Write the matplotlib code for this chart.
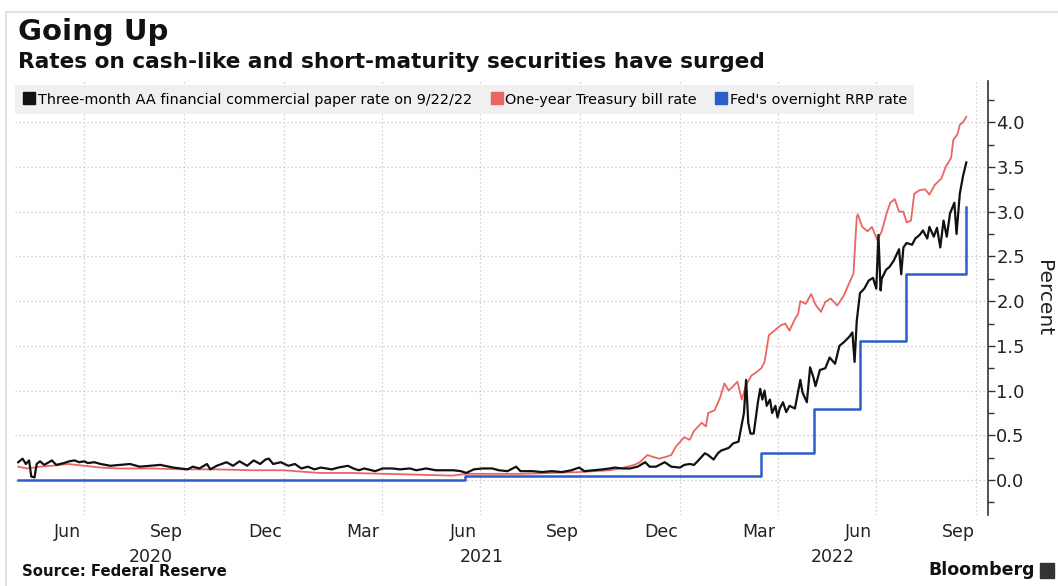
import pandas as pd
import matplotlib
matplotlib.use("Agg")
import matplotlib.pyplot as plt
import matplotlib.dates as mdates
import matplotlib.transforms as mtransforms
from matplotlib.lines import Line2D
from matplotlib.patches import Rectangle
from matplotlib.ticker import MultipleLocator, FixedLocator

plt.rcParams['font.family'] = ['DejaVu Sans']

# --- data ---
cp_dates = [
    '2020-05-01', '2020-05-05', '2020-05-08', '2020-05-11', '2020-05-13', '2020-05-16',
    '2020-05-18', '2020-05-21', '2020-05-25', '2020-06-01', '2020-06-05', '2020-06-12',
    '2020-06-17', '2020-06-22', '2020-06-26', '2020-07-01', '2020-07-04', '2020-07-10',
    '2020-07-16', '2020-07-25', '2020-08-03', '2020-08-12', '2020-08-21', '2020-08-31',
    '2020-09-09', '2020-09-21', '2020-10-04', '2020-10-09', '2020-10-15', '2020-10-22',
    '2020-10-25', '2020-10-31', '2020-11-09', '2020-11-15', '2020-11-21', '2020-11-28',
    '2020-12-04', '2020-12-10', '2020-12-15', '2020-12-18', '2020-12-22', '2020-12-29',
    '2021-01-05', '2021-01-11', '2021-01-17', '2021-01-23', '2021-01-29', '2021-02-04',
    '2021-02-14', '2021-02-20', '2021-03-01', '2021-03-06', '2021-03-11', '2021-03-16',
    '2021-03-26', '2021-04-02', '2021-04-11', '2021-04-18', '2021-04-27', '2021-05-03',
    '2021-05-12', '2021-05-21', '2021-05-30', '2021-06-06', '2021-06-13', '2021-06-18',
    '2021-06-25', '2021-07-03', '2021-07-12', '2021-07-18', '2021-07-26', '2021-08-03',
    '2021-08-07', '2021-08-18', '2021-08-27', '2021-09-05', '2021-09-14', '2021-09-23',
    '2021-09-30', '2021-10-05', '2021-10-14', '2021-10-22', '2021-10-28', '2021-11-02',
    '2021-11-09', '2021-11-16', '2021-11-23', '2021-11-30', '2021-12-04', '2021-12-10',
    '2021-12-18', '2021-12-24', '2022-01-01', '2022-01-05', '2022-01-10', '2022-01-14',
    '2022-01-18', '2022-01-21', '2022-01-24', '2022-01-27', '2022-02-01', '2022-02-05',
    '2022-02-08', '2022-02-15', '2022-02-19', '2022-02-24', '2022-02-26', '2022-03-01',
    '2022-03-03', '2022-03-05', '2022-03-07', '2022-03-10', '2022-03-14', '2022-03-16',
    '2022-03-18', '2022-03-20', '2022-03-22', '2022-03-25', '2022-03-27', '2022-03-30',
    '2022-04-01', '2022-04-03', '2022-04-06', '2022-04-09', '2022-04-12', '2022-04-17',
    '2022-04-22', '2022-04-24', '2022-04-28', '2022-05-01', '2022-05-04', '2022-05-06',
    '2022-05-10', '2022-05-15', '2022-05-19', '2022-05-24', '2022-05-28', '2022-06-01',
    '2022-06-06', '2022-06-09', '2022-06-11', '2022-06-13', '2022-06-16', '2022-06-20',
    '2022-06-24', '2022-06-28', '2022-07-01', '2022-07-03', '2022-07-05', '2022-07-06',
    '2022-07-10', '2022-07-13', '2022-07-17', '2022-07-22', '2022-07-24', '2022-07-26',
    '2022-07-29', '2022-08-03', '2022-08-06', '2022-08-10', '2022-08-13', '2022-08-17',
    '2022-08-19', '2022-08-23', '2022-08-26', '2022-08-29', '2022-09-01', '2022-09-04',
    '2022-09-07', '2022-09-11', '2022-09-13', '2022-09-16', '2022-09-19', '2022-09-22',
]
cp_rates = [
    0.20, 0.24, 0.18, 0.22, 0.04, 0.03,
    0.18, 0.21, 0.17, 0.22, 0.17, 0.19,
    0.21, 0.22, 0.20, 0.21, 0.19, 0.20,
    0.18, 0.16, 0.17, 0.18, 0.15, 0.16,
    0.17, 0.14, 0.12, 0.15, 0.13, 0.18,
    0.12, 0.16, 0.20, 0.16, 0.21, 0.16,
    0.22, 0.18, 0.23, 0.24, 0.18, 0.20,
    0.16, 0.18, 0.13, 0.15, 0.12, 0.14,
    0.12, 0.14, 0.16, 0.13, 0.11, 0.13,
    0.10, 0.13, 0.13, 0.12, 0.13, 0.11,
    0.13, 0.11, 0.11, 0.11, 0.10, 0.08,
    0.12, 0.13, 0.13, 0.11, 0.10, 0.15,
    0.10, 0.10, 0.09, 0.10, 0.09, 0.11,
    0.14, 0.10, 0.11, 0.12, 0.13, 0.14,
    0.13, 0.13, 0.15, 0.20, 0.15, 0.15,
    0.20, 0.15, 0.14, 0.17, 0.18, 0.17,
    0.22, 0.26, 0.30, 0.28, 0.23, 0.30,
    0.33, 0.36, 0.41, 0.43, 0.56, 0.75,
    1.12, 0.64, 0.52, 0.52, 0.88, 1.02,
    0.90, 1.00, 0.83, 0.90, 0.75, 0.83,
    0.70, 0.80, 0.87, 0.76, 0.83, 0.80,
    1.12, 0.98, 0.87, 1.26, 1.15, 1.05,
    1.23, 1.25, 1.37, 1.30, 1.50, 1.54,
    1.60, 1.65, 1.32, 1.78, 2.09, 2.14,
    2.23, 2.26, 2.14, 2.74, 2.12, 2.25,
    2.35, 2.38, 2.45, 2.58, 2.30, 2.60,
    2.65, 2.63, 2.70, 2.74, 2.79, 2.70,
    2.83, 2.72, 2.82, 2.60, 2.90, 2.72,
    2.98, 3.10, 2.75, 3.20, 3.40, 3.55,
]

tbill_dates = [
    '2020-05-01', '2020-05-09', '2020-05-21', '2020-06-01', '2020-06-16', '2020-07-01',
    '2020-07-16', '2020-08-01', '2020-08-31', '2020-09-30', '2020-10-31', '2020-12-01',
    '2021-01-01', '2021-02-02', '2021-03-03', '2021-04-04', '2021-05-06', '2021-06-05',
    '2021-06-18', '2021-07-12', '2021-08-09', '2021-09-05', '2021-10-01', '2021-10-14',
    '2021-10-28', '2021-11-07', '2021-11-13', '2021-11-20', '2021-11-25', '2021-12-02',
    '2021-12-07', '2021-12-13', '2021-12-19', '2021-12-24', '2021-12-28', '2022-01-05',
    '2022-01-10', '2022-01-14', '2022-01-21', '2022-01-25', '2022-01-27', '2022-02-02',
    '2022-02-07', '2022-02-11', '2022-02-15', '2022-02-19', '2022-02-23', '2022-02-27',
    '2022-03-03', '2022-03-08', '2022-03-12', '2022-03-17', '2022-03-20', '2022-03-24',
    '2022-03-28', '2022-04-04', '2022-04-08', '2022-04-12', '2022-04-17', '2022-04-20',
    '2022-04-22', '2022-04-27', '2022-05-02', '2022-05-06', '2022-05-11', '2022-05-15',
    '2022-05-20', '2022-05-26', '2022-06-01', '2022-06-06', '2022-06-10', '2022-06-13',
    '2022-06-14', '2022-06-18', '2022-06-23', '2022-06-27', '2022-06-30', '2022-07-02',
    '2022-07-06', '2022-07-11', '2022-07-14', '2022-07-18', '2022-07-22', '2022-07-26',
    '2022-07-29', '2022-08-02', '2022-08-05', '2022-08-10', '2022-08-15', '2022-08-19',
    '2022-08-24', '2022-08-30', '2022-09-03', '2022-09-08', '2022-09-10', '2022-09-14',
    '2022-09-16', '2022-09-19', '2022-09-22',
]
tbill_rates = [
    0.15, 0.13, 0.15, 0.16, 0.18, 0.16,
    0.14, 0.13, 0.13, 0.12, 0.12, 0.11,
    0.11, 0.08, 0.08, 0.07, 0.06, 0.05,
    0.07, 0.07, 0.07, 0.08, 0.09, 0.10,
    0.11, 0.13, 0.15, 0.17, 0.20, 0.28,
    0.26, 0.24, 0.26, 0.28, 0.37, 0.48,
    0.45, 0.55, 0.64, 0.60, 0.75, 0.78,
    0.92, 1.08, 1.00, 1.05, 1.10, 0.90,
    1.06, 1.17, 1.20, 1.25, 1.32, 1.62,
    1.66, 1.73, 1.75, 1.67, 1.80, 1.86,
    2.00, 1.97, 2.08, 1.96, 1.88, 1.99,
    2.03, 1.95, 2.06, 2.20, 2.31, 2.94,
    2.97, 2.83, 2.78, 2.83, 2.74, 2.68,
    2.78, 3.00, 3.10, 3.14, 3.00, 3.00,
    2.88, 2.90, 3.20, 3.24, 3.25, 3.19,
    3.30, 3.37, 3.50, 3.60, 3.80, 3.87,
    3.97, 4.00, 4.06,
]

rrp_dates = ['2020-05-01', '2021-06-17', '2022-03-17', '2022-05-05',
             '2022-06-16', '2022-07-28', '2022-09-22']
rrp_rates = [0.00, 0.05, 0.30, 0.80, 1.55, 2.30, 3.05]

series_labels = ['Three-month AA financial commercial paper rate on 9/22/22',
                 'One-year Treasury bill rate', "Fed's overnight RRP rate"]
month_labels = ['Jun', 'Sep', 'Dec', 'Mar', 'Jun', 'Sep', 'Dec', 'Mar', 'Jun', 'Sep']
month_label_dates = ['2020-06-15', '2020-09-15', '2020-12-15', '2021-03-15', '2021-06-15',
                     '2021-09-15', '2021-12-15', '2022-03-15', '2022-06-15', '2022-09-15']
year_labels = ['2020', '2021', '2022']
year_label_dates = ['2020-08-31', '2021-07-02', '2022-05-22']

BLACK = '#111111'
RED = '#ea6663'
BLUE = '#2d5ccb'
GRID = '#cccccc'

fig = plt.figure(figsize=(10.58, 5.86), dpi=100)
ax = fig.add_axes([15 / 1058, 1 - 515 / 586, (988 - 15) / 1058, (515 - 81) / 586])

ax.plot(pd.to_datetime(rrp_dates), rrp_rates, color=BLUE, lw=1.8,
        drawstyle='steps-post', zorder=3)
ax.plot(pd.to_datetime(tbill_dates), tbill_rates, color=RED, lw=1.3, zorder=4)
ax.plot(pd.to_datetime(cp_dates), cp_rates, color=BLACK, lw=1.6, zorder=5)

ax.set_xlim(pd.Timestamp('2020-04-28'), pd.Timestamp('2022-10-12'))
ax.set_ylim(-0.39, 4.46)

# x axis: month labels mid-month, grid at quarter starts
ax.xaxis.set_major_locator(FixedLocator(mdates.date2num(pd.to_datetime(month_label_dates))))
ax.xaxis.set_major_formatter(matplotlib.ticker.FixedFormatter(month_labels))
ax.xaxis.set_minor_locator(mdates.MonthLocator(bymonth=[1, 4, 7, 10]))
ax.tick_params(axis='x', which='both', length=0, pad=6, labelsize=12.5, labelcolor='#222222')
ax.grid(axis='x', which='minor', color=GRID, ls=(0, (1.2, 2)), lw=0.9)

# y axis on the right
ax.yaxis.tick_right()
ax.yaxis.set_label_position('right')
ax.yaxis.set_major_locator(FixedLocator([0, 0.5, 1, 1.5, 2, 2.5, 3, 3.5, 4]))
ax.yaxis.set_minor_locator(MultipleLocator(0.25))
ax.yaxis.set_major_formatter(matplotlib.ticker.FormatStrFormatter('%.1f'))
ax.tick_params(axis='y', which='major', length=5, width=1, color='#333333',
               labelsize=13, labelcolor='#222222', pad=1)
ax.tick_params(axis='y', which='minor', length=4, width=1, color='#333333')
ax.grid(axis='y', which='major', color=GRID, ls=(0, (1.2, 2)), lw=0.9)
ax.set_ylabel('Percent', rotation=270, fontsize=14.5, labelpad=20, color='#222222')

for s in ['left', 'top', 'bottom']:
    ax.spines[s].set_visible(False)
ax.spines['right'].set_color('#333333')
ax.spines['right'].set_linewidth(1.2)

# year labels centred on each year's span
trans = mtransforms.blended_transform_factory(ax.transData, ax.transAxes)
for lab, d in zip(year_labels, year_label_dates):
    ax.text(pd.Timestamp(d), -0.075, lab, transform=trans, ha='center', va='top',
            fontsize=12.5, color='#222222')

# legend
handles = [Line2D([], [], marker='s', ls='', color=c, markersize=8)
           for c in [BLACK, RED, BLUE]]
leg = ax.legend(handles, series_labels, loc='upper left', bbox_to_anchor=(0, 0.99),
                ncol=3, frameon=True, fontsize=10.35, handletextpad=0.1,
                columnspacing=1.2, borderaxespad=0, borderpad=0.5, handlelength=1.0)
leg.get_frame().set_facecolor('#efefef')
leg.get_frame().set_edgecolor('none')
leg.get_frame().set_alpha(0.9)
leg.get_frame().set_boxstyle('square', pad=0)

# titles and footer
fig.text(18 / 1058, 1 - 32 / 586, 'Going Up', fontsize=21, fontweight='bold',
         va='center', ha='left', color='#111111')
fig.text(18 / 1058, 1 - 62 / 586, 'Rates on cash-like and short-maturity securities have surged',
         fontsize=15.6, fontweight='bold', va='center', ha='left', color='#111111')
fig.text(22 / 1058, 1 - 572 / 586, 'Source: Federal Reserve', fontsize=10.7,
         fontweight='bold', va='center', ha='left', color='#111111')
fig.text(1035 / 1058, 1 - 570 / 586, 'Bloomberg', fontsize=12.5, fontweight='bold',
         va='center', ha='right', color='#111111')
fig.patches.append(Rectangle((1040 / 1058, 1 - 578 / 586), 14 / 1058, 15 / 586,
                             transform=fig.transFigure, color='#333333'))

# thin frame around the graphic
fig.add_artist(Line2D([6 / 1058, 6 / 1058], [0, 1 - 12 / 586], color='#dfe4e8', lw=1.5))
fig.add_artist(Line2D([6 / 1058, 1], [1 - 12 / 586, 1 - 12 / 586], color='#dfe4e8', lw=1.5))

fig.savefig('out.png', dpi=100)
